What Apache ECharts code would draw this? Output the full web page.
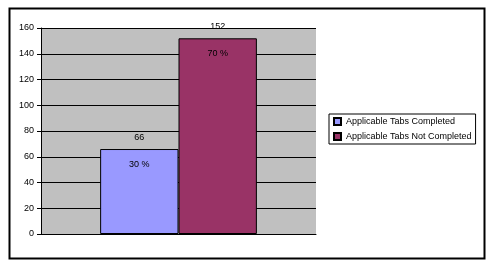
<!DOCTYPE html>
<html><head><meta charset="utf-8">
<script src="https://cdn.jsdelivr.net/npm/echarts@6/dist/echarts.min.js"></script>
<style>html,body{margin:0;padding:0;background:#fff}#c{width:491px;height:263px}</style>
</head><body><div id="c"></div>
<script>
var categories = [''];
var seriesNames = ['Applicable Tabs Completed', 'Applicable Tabs Not Completed'];
var values = [66, 152];
var percents = ['30 %', '70 %'];
var colors = ['#9999FF', '#993366'];
var yTicks = [0, 20, 40, 60, 80, 100, 120, 140, 160];

var chart = echarts.init(document.getElementById('c'), null, {renderer: 'canvas'});
var font = 'Liberation Sans, Arial, sans-serif';
var series = seriesNames.map(function (name, i) {
  return {
    name: name,
    type: 'bar',
    data: [values[i]],
    barGap: '0%',
    barCategoryGap: '43%',
    itemStyle: {color: colors[i], borderColor: '#000', borderWidth: 1},
    label: {
      show: true,
      position: 'top',
      distance: 0,
      offset: [0, 28.5],
      color: '#000',
      fontFamily: font,
      fontSize: 9,
      lineHeight: 27,
      formatter: function () { return values[i] + '\n' + percents[i]; }
    },
    silent: true,
    animation: false
  };
});
chart.setOption({
  animation: false,
  textStyle: {fontFamily: font},
  grid: {left: 41, top: 28, width: 275, height: 206, show: true, backgroundColor: '#C0C0C0', borderWidth: 0, containLabel: false},
  xAxis: {
    type: 'category', data: categories,
    axisLine: {lineStyle: {color: '#000', width: 1}},
    axisTick: {show: false}, axisLabel: {show: false}
  },
  yAxis: {
    type: 'value', min: yTicks[0], max: yTicks[yTicks.length - 1], interval: 20,
    axisLine: {show: true, lineStyle: {color: '#000'}},
    axisTick: {show: true, length: 4, lineStyle: {color: '#000'}},
    axisLabel: {color: '#000', fontSize: 9, margin: 7, fontFamily: font},
    splitLine: {lineStyle: {color: '#000', width: 1}}
  },
  legend: {
    orient: 'vertical', left: 329, top: 114,
    padding: [3, 4, 3, 4],
    icon: 'rect',
    itemWidth: 7, itemHeight: 7, itemGap: 6,
    borderColor: '#000', borderWidth: 1,
    textStyle: {color: '#000', fontSize: 9, fontFamily: font},
    data: seriesNames
  },
  graphic: [{
    type: 'rect', left: 7, top: 6,
    shape: {width: 475, height: 250},
    style: {fill: 'none', stroke: '#000', lineWidth: 2},
    silent: true
  }],
  series: series
});
</script></body></html>
